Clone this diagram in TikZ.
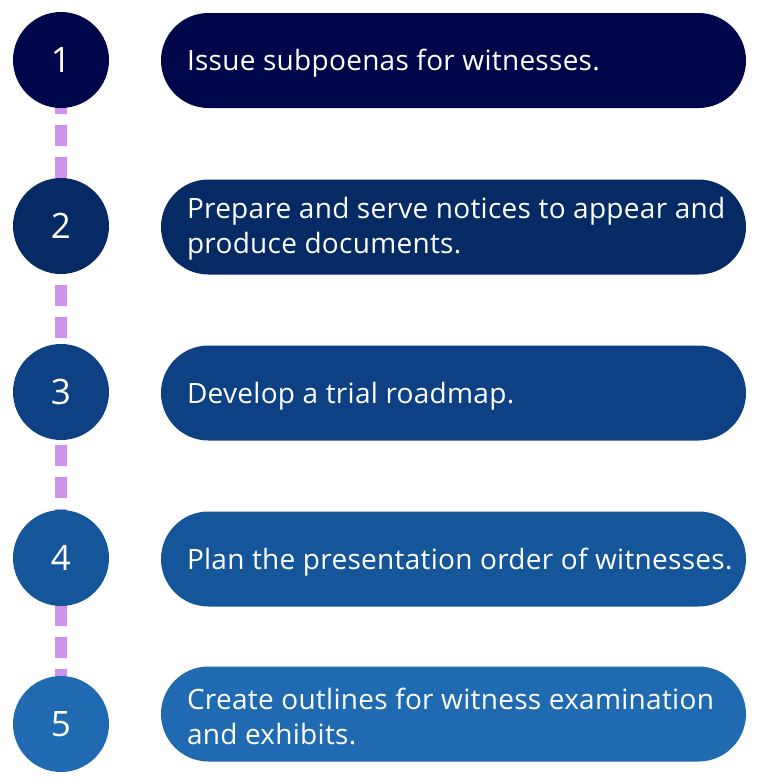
\documentclass[tikz,border=0pt]{standalone}
\usepackage{fontspec}
\setmainfont{Open Sans}
\newfontfamily\pillfont[LetterSpace=1]{Open Sans}
\definecolor{c1}{HTML}{00064A}
\definecolor{c2}{HTML}{062A63}
\definecolor{c3}{HTML}{0E4184}
\definecolor{c4}{HTML}{15569B}
\definecolor{c5}{HTML}{1F6AB0}
\definecolor{dashc}{HTML}{D091EA}
\tikzset{
  numcirc/.style={circle, minimum size=96pt, inner sep=0pt, text=white, font=\fontsize{35}{40}\selectfont},
  pill/.style={rectangle, rounded corners=47.5pt, minimum width=585pt, minimum height=95pt, inner sep=0pt},
  pilltext/.style={anchor=west, text=white, align=left, inner sep=0pt, font=\pillfont\fontsize{28}{35}\selectfont},
  connector/.style={dashc, line width=12pt, dash pattern=on 21pt off 11pt, dash phase=31pt}
}
\begin{document}
\begin{tikzpicture}[x=1pt,y=-1pt]
\useasboundingbox (0,0) rectangle (768,782);
\coordinate (top) at (61,60);
\coordinate (bot) at (61,724);
\draw[connector] (top) -- (bot);
\foreach \i/\y/\py in {1/60/60.5,2/226/227,3/392/393,4/558/559,5/724/714}{
  \node[numcirc, fill=c\i] (c\i) at (61,\y) {\i};
  \node[pill, fill=c\i] (p\i) at (453.5,\py) {};
}
\node[pilltext] (t1) at ([xshift=26pt,yshift=-3pt]p1.west) {Issue subpoenas for witnesses.};
\node[pilltext] (t2) at ([xshift=26pt,yshift=-2pt]p2.west) {Prepare and serve notices to appear and\\produce documents.};
\node[pilltext] (t3) at ([xshift=26pt,yshift=-3pt]p3.west) {Develop a trial roadmap.};
\node[pilltext] (t4) at ([xshift=26pt,yshift=-3pt]p4.west) {Plan the presentation order of witnesses.};
\node[pilltext] (t5) at ([xshift=26pt,yshift=-2pt]p5.west) {Create outlines for witness examination\\and exhibits.};
\end{tikzpicture}
\end{document}
